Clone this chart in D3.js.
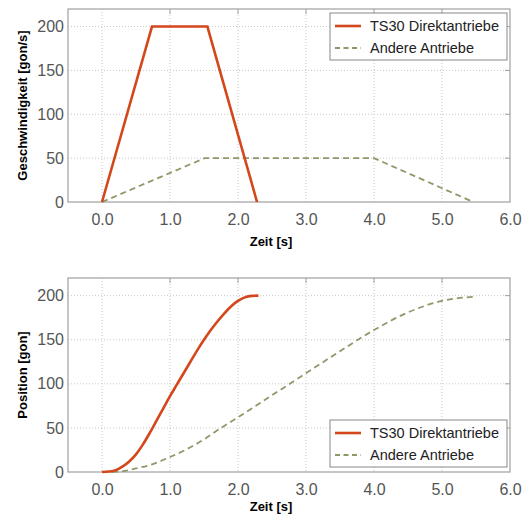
<!DOCTYPE html>
<html><head><meta charset="utf-8">
<script src="https://cdn.jsdelivr.net/npm/d3@7"></script>
<style>body{margin:0;background:#fff}</style>
</head><body>
<script>
const seriesNames = ["TS30 Direktantriebe", "Andere Antriebe"];
const xTicks = [0, 1, 2, 3, 4, 5, 6];
const yTicks = [0, 50, 100, 150, 200];
// Velocity [gon/s]
const velTS30_t = [0, 0.735, 1.55, 2.28];
const velTS30_v = [0, 200, 200, 0];
const velOther_t = [0, 1.51, 4.0, 5.46];
const velOther_v = [0, 50, 50, 0];
// Position [gon]
const posTS30_t = [0, 0.1, 0.2, 0.3, 0.4, 0.5, 0.6, 0.7, 0.8, 0.9, 1.0, 1.1, 1.2, 1.3, 1.4, 1.5, 1.6, 1.7, 1.8, 1.9, 2.0, 2.1, 2.2, 2.3];
const posTS30_p = [0, 0.5, 2, 6, 12, 20, 31, 44, 58, 72, 86, 99, 112, 125, 138, 150, 161, 171, 180, 188, 194, 198, 199.7, 200];
const posOther_t = [0, 0.25, 0.5, 0.75, 1.0, 1.25, 1.5, 1.75, 2.0, 2.5, 3.0, 3.5, 4.0, 4.5, 5.0, 5.5];
const posOther_p = [0, 0.5, 4, 9, 17, 26, 37, 50, 62, 87, 112, 137, 161, 181, 194, 199];

const W = 528, H = 519;
const svg = d3.select("body").append("svg").attr("width", W).attr("height", H);
const x = d3.scaleLinear().domain([-0.5, 6]).range([68, 510]);
const colors = ["#d4471c", "#8c9a6a"];
const font = "Liberation Sans, Arial, sans-serif";

function panel(top, bottom, tA, vA, tB, vB, ylabel, legendTop, xlabelY, smooth) {
  const y = d3.scaleLinear().domain([0, 220]).range([bottom, top]);
  const g = svg.append("g");
  g.selectAll(".gx").data(xTicks.slice(0, -1)).enter().append("line")
    .attr("x1", d => x(d)).attr("x2", d => x(d)).attr("y1", top).attr("y2", bottom)
    .attr("stroke", "#c8c8c8").attr("stroke-width", 1).attr("stroke-dasharray", "1,2");
  g.selectAll(".gy").data(yTicks.slice(1)).enter().append("line")
    .attr("x1", 68).attr("x2", 510).attr("y1", d => y(d)).attr("y2", d => y(d))
    .attr("stroke", "#c8c8c8").attr("stroke-width", 1).attr("stroke-dasharray", "1,2");
  g.append("rect").attr("x", 68).attr("y", top).attr("width", 442).attr("height", bottom - top)
    .attr("fill", "none").attr("stroke", "#a0a0a0").attr("stroke-width", 1.2);
  const xa = g.append("g").attr("transform", `translate(0,${bottom})`)
    .call(d3.axisBottom(x).tickValues(xTicks).tickFormat(d3.format(".1f")).tickSize(0).tickPadding(12));
  const ya = g.append("g").attr("transform", `translate(68,0)`)
    .call(d3.axisLeft(y).tickValues(yTicks).tickSize(0).tickPadding(4));
  [xa, ya].forEach(a => {
    a.select(".domain").remove();
    a.selectAll("text").attr("font-family", font).attr("font-size", 16).attr("fill", "#555");
  });
  g.selectAll(".tr").data(yTicks.slice(1)).enter().append("line")
    .attr("x1", 505).attr("x2", 510).attr("y1", d => y(d)).attr("y2", d => y(d)).attr("stroke", "#a0a0a0");
  g.selectAll(".tt").data(xTicks.slice(1, -1)).enter().append("line")
    .attr("x1", d => x(d)).attr("x2", d => x(d)).attr("y1", top).attr("y2", top + 5).attr("stroke", "#a0a0a0");
  const line = d3.line().x(d => x(d[0])).y(d => y(d[1]))
    .curve(smooth ? d3.curveMonotoneX : d3.curveLinear);
  g.append("path").datum(tB.map((t, i) => [t, vB[i]])).attr("d", line)
    .attr("fill", "none").attr("stroke", colors[1]).attr("stroke-width", 1.8).attr("stroke-dasharray", "6,4");
  g.append("path").datum(tA.map((t, i) => [t, vA[i]])).attr("d", line)
    .attr("fill", "none").attr("stroke", colors[0]).attr("stroke-width", 2.6);
  g.append("text").attr("x", 271).attr("y", xlabelY).attr("text-anchor", "middle")
    .attr("font-family", font).attr("font-weight", "bold").attr("font-size", 13).text("Zeit [s]");
  g.append("text").attr("transform", `translate(27,${(top + bottom) / 2}) rotate(-90)`).attr("text-anchor", "middle")
    .attr("font-family", font).attr("font-weight", "bold").attr("font-size", 13).text(ylabel);
  const lg = g.append("g").attr("transform", `translate(330,${legendTop})`);
  lg.append("rect").attr("width", 177).attr("height", 47).attr("fill", "#fff").attr("stroke", "#888").attr("stroke-width", 1);
  seriesNames.forEach((n, i) => {
    const yy = 13 + i * 22;
    lg.append("line").attr("x1", 5).attr("x2", 31).attr("y1", yy).attr("y2", yy)
      .attr("stroke", colors[i]).attr("stroke-width", i === 0 ? 2.6 : 1.8)
      .attr("stroke-dasharray", i === 0 ? null : "5,3.5");
    lg.append("text").attr("x", 40).attr("y", yy + 5).attr("font-family", font).attr("font-size", 14.5)
      .attr("fill", "#222").text(n);
  });
}

panel(9, 202, velTS30_t, velTS30_v, velOther_t, velOther_v, "Geschwindigkeit [gon/s]", 13, 246, false);
panel(278, 472, posTS30_t, posTS30_p, posOther_t, posOther_p, "Position [gon]", 420, 511, true);
</script>
</body></html>
